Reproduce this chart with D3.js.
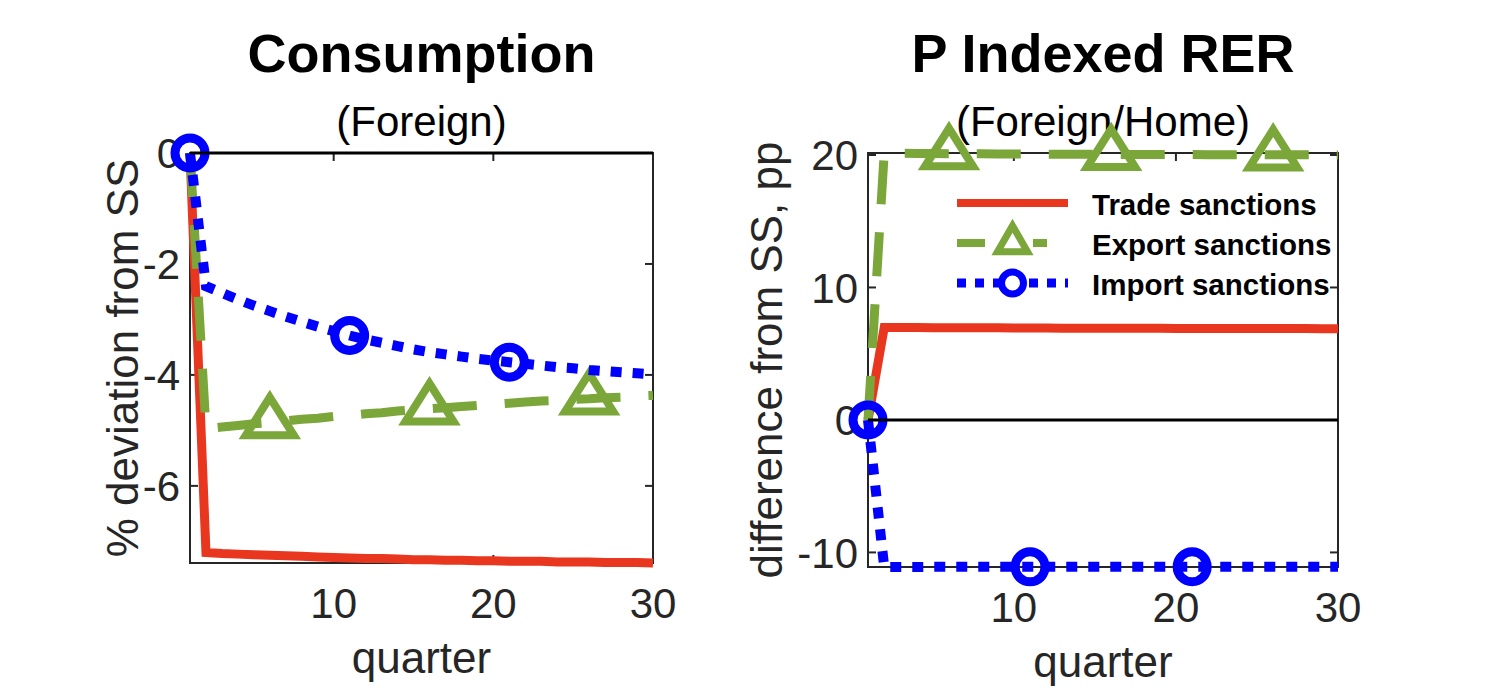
<!DOCTYPE html>
<html><head><meta charset="utf-8">
<script src="https://cdn.jsdelivr.net/npm/d3@7"></script>
<style>
body{margin:0;background:#fff}
svg{display:block}
text{font-family:"Liberation Sans",Arial,Helvetica,sans-serif;fill:#000}
</style>
</head><body>
<svg id="chart" width="1492" height="698"></svg>
<script>
// ---------------- data ----------------
const quarters = [1,2,3,4,5,6,7,8,9,10,11,12,13,14,15,16,17,18,19,20,21,22,23,24,25,26,27,28,29,30];
const seriesNames = ["Trade sanctions","Export sanctions","Import sanctions"];

// Consumption (Foreign), % deviation from SS
const consTrade  = [0,-7.20,-7.22,-7.23,-7.24,-7.25,-7.26,-7.27,-7.28,-7.29,-7.30,-7.31,-7.31,-7.32,-7.33,-7.33,-7.34,-7.34,-7.35,-7.35,-7.36,-7.36,-7.36,-7.37,-7.37,-7.37,-7.38,-7.38,-7.38,-7.39];
const consExport = [0,-4.97,-4.94,-4.91,-4.88,-4.86,-4.83,-4.80,-4.78,-4.75,-4.73,-4.70,-4.68,-4.65,-4.63,-4.61,-4.59,-4.57,-4.55,-4.53,-4.51,-4.49,-4.47,-4.46,-4.44,-4.43,-4.41,-4.40,-4.38,-4.37];
const consImport = [0,-2.40,-2.52,-2.64,-2.75,-2.85,-2.95,-3.04,-3.13,-3.21,-3.29,-3.36,-3.42,-3.48,-3.54,-3.59,-3.63,-3.67,-3.71,-3.74,-3.77,-3.80,-3.83,-3.86,-3.88,-3.91,-3.93,-3.95,-3.97,-3.99];

// P Indexed RER (Foreign/Home), difference from SS, pp
const rerTrade  = [0,6.98,6.97,6.97,6.96,6.96,6.95,6.95,6.95,6.94,6.94,6.94,6.93,6.93,6.93,6.92,6.92,6.92,6.92,6.91,6.91,6.91,6.91,6.90,6.90,6.90,6.90,6.90,6.89,6.89];
const rerExport = [0,20.15,20.13,20.12,20.11,20.10,20.09,20.09,20.08,20.07,20.07,20.06,20.06,20.05,20.05,20.04,20.04,20.04,20.03,20.03,20.03,20.02,20.02,20.02,20.02,20.01,20.01,20.01,20.01,20.00];
const rerImport = [0,-11.10,-11.10,-11.10,-11.09,-11.09,-11.09,-11.09,-11.09,-11.09,-11.09,-11.09,-11.09,-11.08,-11.08,-11.08,-11.08,-11.08,-11.08,-11.08,-11.08,-11.08,-11.08,-11.08,-11.08,-11.08,-11.08,-11.08,-11.08,-11.08];

const consYTicks = [-6,-4,-2,0];
const rerYTicks  = [-10,0,10,20];
const xTicks     = [10,20,30];
const consYDomain = [-7.39, 0];
const rerYDomain  = [-11.1, 20.15];
const circleIdx = [0,10,20];
const triIdx    = [5,15,25];

// ---------------- styles ----------------
const RED = "#e8361f", GREEN = "#7aa63a", BLUE = "#0000ff", AX = "#262626";

const svg = d3.select("#chart");

const panels = [
  {title:"Consumption", sub:"(Foreign)", ylab:"% deviation from SS",
   x0:190, x1:653, y0:153, y1:563, ydom:consYDomain, yt:consYTicks,
   data:[consTrade, consExport, consImport], ylabX:138, legend:false},
  {title:"P Indexed RER", sub:"(Foreign/Home)", ylab:"difference from SS, pp",
   x0:868, x1:1338, y0:153, y1:567, ydom:rerYDomain, yt:rerYTicks,
   data:[rerTrade, rerExport, rerImport], ylabX:782, legend:true}
];

const triPath = (w,h) => `M0,${-2*h/3}L${w/2},${h/3}L${-w/2},${h/3}Z`;
const fmtTick = v => String(v); // hyphen-minus like the original

panels.forEach(p => {
  const g = svg.append("g");
  const x = d3.scaleLinear().domain([1,30]).range([p.x0,p.x1]);
  const y = d3.scaleLinear().domain(p.ydom).range([p.y1,p.y0]);
  const cx = (p.x0+p.x1)/2;

  // box
  g.append("rect").attr("x",p.x0).attr("y",p.y0).attr("width",p.x1-p.x0).attr("height",p.y1-p.y0)
   .attr("fill","none").attr("stroke",AX).attr("stroke-width",2);

  // ticks (inward, mirrored)
  const tl = 8;
  p.yt.forEach(v => {
    g.append("line").attr("x1",p.x0).attr("x2",p.x0+tl).attr("y1",y(v)).attr("y2",y(v)).attr("stroke",AX).attr("stroke-width",2);
    g.append("line").attr("x1",p.x1).attr("x2",p.x1-tl).attr("y1",y(v)).attr("y2",y(v)).attr("stroke",AX).attr("stroke-width",2);
    g.append("text").attr("x",p.x0-10).attr("y",y(v)).attr("dy","0.36em").attr("text-anchor","end")
     .attr("font-size",42).style("fill","#262626").text(fmtTick(v));
  });
  xTicks.forEach(v => {
    g.append("line").attr("x1",x(v)).attr("x2",x(v)).attr("y1",p.y1).attr("y2",p.y1-tl).attr("stroke",AX).attr("stroke-width",2);
    g.append("line").attr("x1",x(v)).attr("x2",x(v)).attr("y1",p.y0).attr("y2",p.y0+tl).attr("stroke",AX).attr("stroke-width",2);
    g.append("text").attr("x",x(v)).attr("y",p.y1+55).attr("text-anchor","middle")
     .attr("font-size",42).style("fill","#262626").text(fmtTick(v));
  });

  // labels
  g.append("text").attr("x",cx).attr("y",p.y1+110).attr("text-anchor","middle").attr("font-size",44).style("fill","#262626").text("quarter");
  g.append("text").attr("transform",`translate(${p.ylabX},${(p.y0+p.y1)/2}) rotate(-90)`).attr("text-anchor","middle")
   .attr("font-size",44).style("fill","#262626").text(p.ylab);
  g.append("text").attr("x",cx).attr("y",72).attr("text-anchor","middle").attr("font-size",54).attr("font-weight","bold").text(p.title);
  g.append("text").attr("x",cx).attr("y",136).attr("text-anchor","middle").attr("font-size",42).text(p.sub);

  const line = d3.line().x((d,i)=>x(quarters[i])).y(d=>y(d));

  // Trade
  g.append("path").datum(p.data[0]).attr("d",line).attr("fill","none").attr("stroke",RED).attr("stroke-width",9).attr("stroke-linejoin","miter");
  // Export
  g.append("path").datum(p.data[1]).attr("d",line).attr("fill","none").attr("stroke",GREEN).attr("stroke-width",9)
   .attr("stroke-dasharray","44,28");
  g.selectAll(null).data(triIdx).enter().append("path")
   .attr("transform",i=>`translate(${x(quarters[i])},${y(p.data[1][i])})`)
   .attr("d",triPath(48,38)).attr("fill","none").attr("stroke",GREEN).attr("stroke-width",8);
  // Import
  g.append("path").datum(p.data[2]).attr("d",line).attr("fill","none").attr("stroke",BLUE).attr("stroke-width",10)
   .attr("stroke-dasharray","11,11");
  g.selectAll(null).data(circleIdx).enter().append("circle")
   .attr("cx",i=>x(quarters[i])).attr("cy",i=>y(p.data[2][i])).attr("r",15)
   .attr("fill","none").attr("stroke",BLUE).attr("stroke-width",9);

  // zero line
  g.append("line").attr("x1",x(1)).attr("x2",x(30)).attr("y1",y(0)).attr("y2",y(0)).attr("stroke","#000").attr("stroke-width",3);

  if (p.legend) {
    const lg = g.append("g");
    const lx0 = 957, lx1 = 1068, mx = (lx0+lx1)/2, tx = 1092;
    const rows = [203,243,283];
    lg.append("line").attr("x1",lx0).attr("x2",lx1).attr("y1",rows[0]).attr("y2",rows[0]).attr("stroke",RED).attr("stroke-width",8);
    lg.append("line").attr("x1",lx0).attr("x2",lx1).attr("y1",rows[1]).attr("y2",rows[1]).attr("stroke",GREEN).attr("stroke-width",8)
      .attr("stroke-dasharray","28,48,14,100");
    lg.append("path").attr("transform",`translate(${mx},${rows[1]})`).attr("d",triPath(30,26)).attr("fill","#fff").attr("stroke",GREEN).attr("stroke-width",7);
    lg.append("line").attr("x1",lx0).attr("x2",lx1).attr("y1",rows[2]).attr("y2",rows[2]).attr("stroke",BLUE).attr("stroke-width",9)
      .attr("stroke-dasharray","9,9");
    lg.append("circle").attr("cx",mx).attr("cy",rows[2]).attr("r",11).attr("fill","#fff").attr("stroke",BLUE).attr("stroke-width",7);
    seriesNames.forEach((n,i)=>{
      lg.append("text").attr("x",tx).attr("y",rows[i]+12).attr("font-size",29.5).attr("font-weight","bold").text(n);
    });
  }
});
</script>
</body></html>
